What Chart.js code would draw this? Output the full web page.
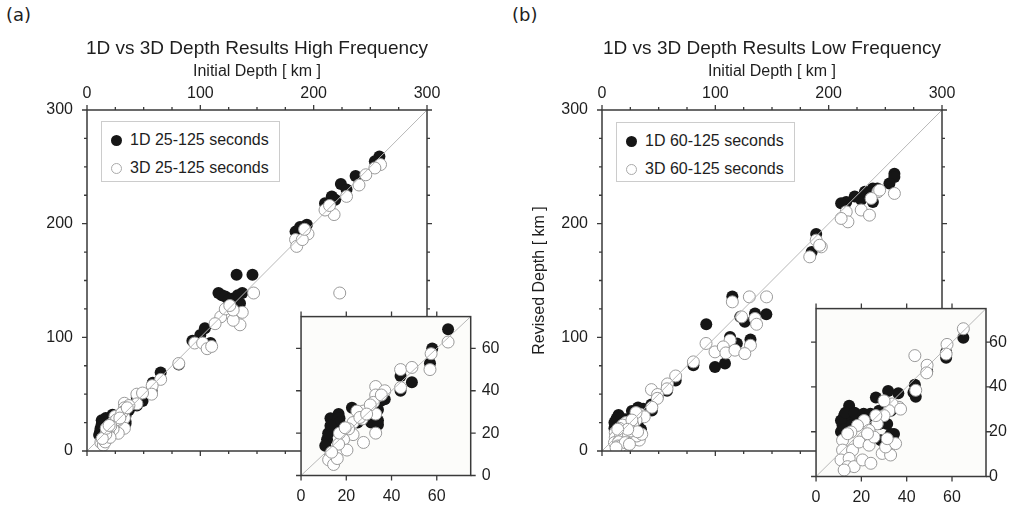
<!DOCTYPE html>
<html>
<head>
<meta charset="utf-8">
<script src="https://cdn.jsdelivr.net/npm/chart.js@4.4.1/dist/chart.umd.min.js"></script>
<style>
  html, body { margin: 0; padding: 0; background: #fff; width: 1019px; height: 508px; overflow: hidden; }
  body { position: relative; font-family: "Liberation Sans", Arial, sans-serif; color: #1e1e1e; }
  canvas, .tag, .legend { position: absolute; }
  .tag { font: 18px "DejaVu Sans"; line-height: 18px; }
  .legend { border: 1px solid #cccccc; background: #fff; box-sizing: border-box; }
  .legend .row { position: absolute; left: 28px; height: 20px; line-height: 20px; font-size: 16px; white-space: nowrap; }
  .legend .dot { position: absolute; left: -19px; top: 5px; width: 11px; height: 11px; border-radius: 50%; box-sizing: border-box; }
</style>
</head>
<body>
<div class="tag" style="left:6px;top:6px">(a)</div>
<div class="tag" style="left:512px;top:6px">(b)</div>
<canvas id="mainA" width="514" height="508" style="left:0;top:0"></canvas>
<canvas id="mainB" width="514" height="508" style="left:515px;top:0"></canvas>
<canvas id="insetA" width="234" height="212" style="left:285px;top:296px"></canvas>
<canvas id="insetB" width="219" height="212" style="left:800px;top:296px"></canvas>
<div class="legend" id="legendA" style="left:101px;top:121px;width:179px;height:61px"></div>
<div class="legend" id="legendB" style="left:616px;top:122px;width:179px;height:60px"></div>
<script>
// Panel titles and series names
const titleHigh = '1D vs 3D Depth Results High Frequency';
const titleLow = '1D vs 3D Depth Results Low Frequency';
const labelsHigh = ['1D 25-125 seconds', '3D 25-125 seconds'];
const labelsLow = ['1D 60-125 seconds', '3D 60-125 seconds'];

// Axis ranges (main plots and insets), also used for the 1:1 line
const mainRange = [0, 300];
const insetRange = [0, 75];

// High frequency, 1D model (initial depth, revised depth)
const hf1dInitial = [258, 254, 237, 224, 229, 216, 210, 219, 184, 188, 194, 191,
  116, 119, 122, 128, 132, 146, 135, 137, 133, 125, 93, 100, 104, 109, 81,
  65, 58, 57, 44, 49, 44, 37, 34, 34, 31, 22.5, 16.6, 16, 15, 13, 14.5, 11.5,
  10.7, 12, 17, 35, 34, 20, 25, 28, 16.5, 17, 13];
const hf1dRevised = [259, 255, 242, 235, 230, 224, 218, 221, 193, 197, 199, 197,
  139, 137, 136, 134, 155, 155, 130, 139, 137, 133, 97, 102, 108, 95, 76,
  69, 60, 53, 47, 44, 40, 36, 31, 26, 25, 32, 29, 26, 22, 27, 24, 17,
  14, 20, 27, 35, 24, 22, 25, 28, 27, 25, 23.5];

// High frequency, 3D model
const hf3dInitial = [259, 254, 246, 240, 229, 218, 210, 214, 223, 195, 184, 185,
  190, 192, 147, 137, 135, 129, 118, 113, 122, 129, 126, 95, 102, 106, 110, 81,
  65, 57.5, 57, 44, 49, 44, 33, 37, 33, 32, 33, 33, 27.6, 27.6, 24.7, 27, 23,
  23, 18.8, 17.3, 13, 12.2, 14.4, 16, 20.3, 16.6, 30.6, 26, 21, 13.5, 17, 19.5,
  29, 35.5];
const hf3dRevised = [252, 249, 243, 234, 224, 208, 212, 216, 139, 191, 186, 180,
  186, 195, 139, 122, 111, 115, 118, 112, 125, 124, 128, 95, 95, 90, 92, 77,
  63, 57.5, 50, 50, 51, 41.5, 42, 40, 38, 34.5, 29, 20, 15.6, 30.4, 30.4, 26.7, 25,
  19.3, 17, 12.6, 9.6, 7.4, 5.2, 8, 12, 14.8, 33.3, 27.4, 22, 11, 20, 22.5,
  29, 38];

// Low frequency, 1D model
const lf1dInitial = [258, 258, 253.6, 239, 243, 236, 239, 223, 215.5, 228.7, 211, 232,
  189, 185, 115, 92, 126, 135, 145, 113, 119, 131, 99.7, 108.5, 80.6, 122,
  65, 57.4, 57.4, 49, 43.6, 44, 36.3, 31.8, 26.4, 14.6, 12.4, 15.4, 19, 11.7, 11,
  22.7, 33, 33, 33.7, 27.8, 28.6, 43, 17.5, 14, 32.2, 34.4, 31.4, 27.8,
  11, 13, 17, 21, 24, 12.5, 16];
const lf1dRevised = [244, 241, 235.4, 231, 231, 224, 219, 224, 219, 221, 218, 228,
  191, 175, 136, 111.5, 113.6, 121, 120.4, 100.4, 94.6, 98, 74, 77, 75.5, 118,
  62, 53, 55.5, 47, 41, 35.6, 37.2, 38.2, 35.3, 31.6, 27.2, 25.7, 27.2, 22.8, 20,
  25.7, 29.4, 19, 17.6, 23.5, 16.2, 37.5, 26.5, 24.3, 17.6, 19, 23.5, 29.4,
  25, 28.5, 28.5, 28, 28, 21, 23];

// Low frequency, 3D model
const lf3dInitial = [258, 243.4, 237.5, 228.7, 236, 215.5, 217, 211, 245,
  189, 193.5, 183.3, 192, 115, 130, 145.2, 123.2, 135, 136.4, 113, 131, 91.8,
  99.7, 107, 109.3, 117.3, 126, 80.6,
  65, 57.8, 57.4, 43.6, 49, 48.8, 44, 36.6, 33.6, 32.2, 37.3, 30, 27, 21.2, 23.4,
  18.3, 15.4, 11.7, 11.7, 16.1, 19, 23.4, 29.2, 32.9, 30.7, 35.1, 11, 14.6, 13.9,
  16.8, 20.5, 25.6, 31.4, 24.2, 12.4, 30, 26.4, 22.7, 13.9];
const lf3dRevised = [226.6, 228, 222.2, 212, 207.5, 210.4, 201.6, 204.6, 229.5,
  185.5, 179.6, 170.8, 181, 131.2, 135.6, 135.6, 118, 116.6, 111.5, 97.4, 93, 94.6,
  87.2, 91.6, 86.3, 88.7, 85.7, 78.4,
  66, 59, 54.7, 54, 49.7, 46.3, 38.5, 30.9, 32.4, 29.4, 30.1, 27.2, 23.5, 25, 20.6,
  22.8, 19.9, 16.2, 11.8, 11.8, 15.4, 14, 10.3, 9.6, 13.2, 14.7, 7.4, 8.1, 4.4,
  4.4, 7.4, 17.6, 16.9, 5.9, 2.9, 33.8, 27.2, 19.1, 19.1];

const textColor = '#1e1e1e';
const baseFont = { family: '"Liberation Sans", Arial, sans-serif', size: 16 };

function pts(xs, ys) {
  return xs.map((x, i) => ({ x: x, y: ys[i] }));
}

// Frame with outward tick marks on all four sides, plus optional plot fill
const frameTicks = {
  id: 'frameTicks',
  beforeDraw(chart, args, opts) {
    if (!opts.fill) return;
    const a = chart.chartArea;
    chart.ctx.save();
    chart.ctx.fillStyle = opts.fill;
    chart.ctx.fillRect(a.left, a.top, a.right - a.left, a.bottom - a.top);
    chart.ctx.restore();
  },
  afterDatasetsDraw(chart, args, opts) {
    const { ctx, chartArea: a } = chart;
    const x = chart.scales.x, y = chart.scales.y;
    ctx.save();
    ctx.strokeStyle = '#3a3a3a';
    ctx.lineWidth = 1.3;
    ctx.beginPath();
    const marks = (step, len) => {
      for (let i = 0; i * step <= x.max; i++) {
        const px = x.getPixelForValue(i * step);
        ctx.moveTo(px, a.top); ctx.lineTo(px, a.top - len);
        ctx.moveTo(px, a.bottom); ctx.lineTo(px, a.bottom + len);
      }
      for (let i = 0; i * step <= y.max; i++) {
        const py = y.getPixelForValue(i * step);
        ctx.moveTo(a.left, py); ctx.lineTo(a.left - len, py);
        ctx.moveTo(a.right, py); ctx.lineTo(a.right + len, py);
      }
    };
    if (opts.minor) marks(opts.minor, 3);
    marks(opts.major, 5);
    ctx.stroke();
    ctx.lineWidth = 1.5;
    ctx.strokeRect(a.left, a.top, a.right - a.left, a.bottom - a.top);
    ctx.restore();
  }
};

function seriesSets(x1, y1, x3, y3, labels, range) {
  return [
    { label: labels[0], data: pts(x1, y1), order: 2, pointRadius: 6,
      backgroundColor: '#161616', borderColor: '#161616', borderWidth: 0 },
    { label: labels[1], data: pts(x3, y3), order: 1, pointRadius: 6,
      backgroundColor: '#ffffff', borderColor: '#9a9a9a', borderWidth: 1 },
    { type: 'line', label: '1:1', data: pts(range, range), order: 0,
      borderColor: '#b8b8b8', borderWidth: 1, pointRadius: 0, fill: false }
  ];
}

function mainChart(id, x1, y1, x3, y3, labels, title, showYTitle) {
  return new Chart(document.getElementById(id), {
    type: 'scatter',
    data: { datasets: seriesSets(x1, y1, x3, y3, labels, mainRange) },
    options: {
      responsive: false,
      animation: false,
      events: [],
      layout: { padding: { left: 0, right: 0, top: 0, bottom: 57 } },
      plugins: {
        legend: { display: false },
        tooltip: { enabled: false },
        title: {
          display: true, text: title, color: textColor,
          font: { family: baseFont.family, size: 19, weight: 'normal' },
          padding: { top: 37.6, bottom: 1.6 }
        },
        frameTicks: { major: 100, minor: 25 }
      },
      scales: {
        x: {
          type: 'linear', position: 'top', min: mainRange[0], max: mainRange[1],
          ticks: { stepSize: 100, padding: 7, color: textColor, font: baseFont, maxRotation: 0 },
          grid: { display: false, drawTicks: false }, border: { display: false },
          title: { display: true, text: 'Initial Depth [ km ]', color: textColor, font: baseFont,
                   padding: { top: 0.4, bottom: 0 } },
          afterFit: s => { s.height = 48; }
        },
        y: {
          type: 'linear', position: 'left', min: mainRange[0], max: mainRange[1],
          ticks: { stepSize: 100, padding: 14, color: textColor, font: baseFont },
          grid: { display: false, drawTicks: false }, border: { display: false },
          title: { display: showYTitle, text: 'Revised Depth [ km ]', color: textColor, font: baseFont,
                   padding: { top: 15.4, bottom: 0 } },
          afterFit: s => { s.width = 87; }
        },
        y2: {
          type: 'linear', position: 'right', min: mainRange[0], max: mainRange[1],
          ticks: { display: false }, grid: { display: false, drawTicks: false }, border: { display: false },
          afterFit: s => { s.width = 87; }
        }
      }
    },
    plugins: [frameTicks]
  });
}

function insetChart(id, x1, y1, x3, y3, labels, box) {
  return new Chart(document.getElementById(id), {
    type: 'scatter',
    data: { datasets: seriesSets(x1, y1, x3, y3, labels, insetRange) },
    options: {
      responsive: false,
      animation: false,
      events: [],
      layout: { padding: { left: box.left, top: box.top, right: 0, bottom: 0 } },
      plugins: {
        legend: { display: false },
        tooltip: { enabled: false },
        frameTicks: { major: 20, fill: '#fcfcfa' }
      },
      scales: {
        x: {
          type: 'linear', position: 'bottom', min: insetRange[0], max: insetRange[1],
          ticks: { stepSize: 20, includeBounds: false, padding: 11.6, color: textColor, font: baseFont, maxRotation: 0 },
          grid: { display: false, drawTicks: false }, border: { display: false },
          afterFit: s => { s.height = box.xh; }
        },
        y: {
          type: 'linear', position: 'right', min: insetRange[0], max: insetRange[1],
          ticks: { stepSize: 20, includeBounds: false, padding: box.ypad, color: textColor, font: baseFont },
          grid: { display: false, drawTicks: false }, border: { display: false },
          afterFit: s => { s.width = box.yw; }
        }
      }
    },
    plugins: [frameTicks]
  });
}

function buildLegend(id, labels) {
  const el = document.getElementById(id);
  const kinds = [
    'background:#161616;',
    'background:#fff;border:1px solid #aaaaaa;'
  ];
  labels.forEach((text, i) => {
    const row = document.createElement('div');
    row.className = 'row';
    row.style.top = (8 + i * 28) + 'px';
    const dot = document.createElement('span');
    dot.className = 'dot';
    dot.style.cssText = kinds[i];
    row.appendChild(dot);
    row.appendChild(document.createTextNode(text));
    el.appendChild(row);
  });
}

mainChart('mainA', hf1dInitial, hf1dRevised, hf3dInitial, hf3dRevised, labelsHigh, titleHigh, false);
mainChart('mainB', lf1dInitial, lf1dRevised, lf3dInitial, lf3dRevised, labelsLow, titleLow, true);
insetChart('insetA', hf1dInitial, hf1dRevised, hf3dInitial, hf3dRevised, labelsHigh,
  { left: 15.7, top: 10, xh: 32.5, yw: 48.3, ypad: 11 });
insetChart('insetB', lf1dInitial, lf1dRevised, lf3dInitial, lf3dRevised, labelsLow,
  { left: 15, top: 10, xh: 31.5, yw: 33, ypad: 3 });
buildLegend('legendA', labelsHigh);
buildLegend('legendB', labelsLow);
</script>
</body>
</html>
